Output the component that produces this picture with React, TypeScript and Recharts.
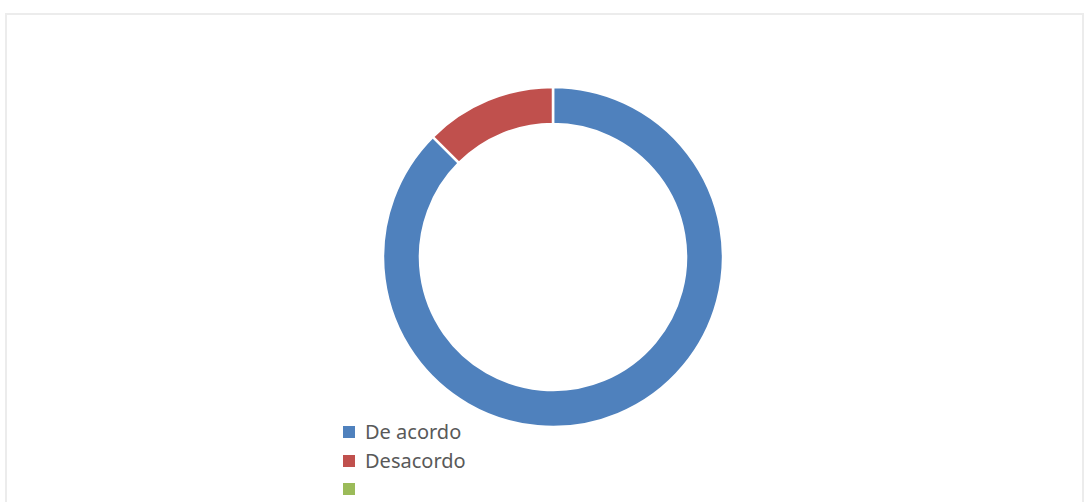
import React from "react";
import { PieChart, Pie, Cell, Legend } from "recharts";

// categories and values read from the donut (blue ≈ 87.5%, red ≈ 12.5%, third empty)
const categories = ["De acordo", "Desacordo", ""];
const values = [7, 1, 0];
const colors = ["#4F81BD", "#C0504D", "#9BBB59"];

const data = categories.map((name, i) => ({ name, value: values[i] }));

function LegendBox() {
  return (
    <div style={{ fontFamily: "'Noto Sans', sans-serif", fontSize: 20, color: "#595959" }}>
      {categories.map((c, i) => (
        <div key={i} style={{ display: "flex", alignItems: "center", height: 28.5 }}>
          <span style={{ display: "inline-block", width: 12, height: 12, background: colors[i], marginRight: 10 }} />
          <span style={{ lineHeight: "20px" }}>{c}</span>
        </div>
      ))}
    </div>
  );
}

export default function App() {
  return (
    <div style={{ position: "absolute", left: 0, top: 0, width: 1087, height: 502, background: "#fff", overflow: "hidden" }}>
      <div
        style={{
          position: "absolute", left: 5, top: 13, width: 1079, height: 520,
          border: "2px solid #ececec", boxSizing: "border-box",
        }}
      />
      <PieChart
        width={1087}
        height={502}
        margin={{ top: 0, right: 0, bottom: 0, left: 0 }}
        style={{ position: "absolute", left: 0, top: 0 }}
      >
        <Pie
          data={data}
          dataKey="value"
          nameKey="name"
          cx={553}
          cy={257}
          innerRadius={133}
          outerRadius={170}
          startAngle={90}
          endAngle={-270}
          stroke="#fff"
          strokeWidth={2.5}
          isAnimationActive={false}
        >
          {data.map((d, i) => (
            <Cell key={i} fill={colors[i]} />
          ))}
        </Pie>
        <Legend
          content={() => <LegendBox />}
          layout="vertical"
          wrapperStyle={{ position: "absolute", left: 343, top: 418, width: 200 }}
        />
      </PieChart>
    </div>
  );
}
